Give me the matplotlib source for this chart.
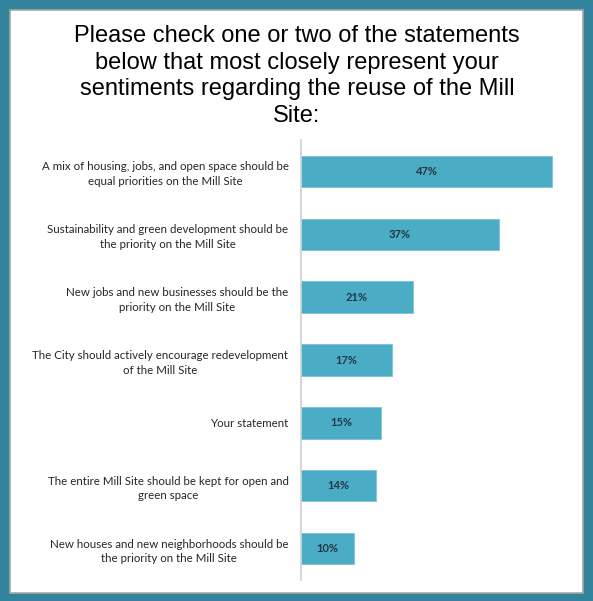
import numpy as np
import matplotlib.pyplot as plt
from matplotlib.patches import Rectangle

# Survey answers, top to bottom
categories = [
    "A mix of housing, jobs, and open space should be\nequal priorities on the Mill Site",
    "Sustainability and green development should be\nthe priority on the Mill Site",
    "New jobs and new businesses should be the\npriority on the Mill Site",
    "The City should actively encourage redevelopment\nof the Mill Site",
    "Your statement",
    "The entire Mill Site should be kept for open and\ngreen space",
    "New houses and new neighborhoods should be\nthe priority on the Mill Site",
]
values = [47, 37, 21, 17, 15, 14, 10]
value_labels = ["47%", "37%", "21%", "17%", "15%", "14%", "10%"]

title = ("Please check one or two of the statements\n"
         "below that most closely represent your\n"
         "sentiments regarding the reuse of the Mill\n"
         "Site:")

W, H = 593, 601
fig = plt.figure(figsize=(W / 100, H / 100), dpi=100)

# Teal frame with a white panel inside
fig.patches.append(Rectangle((0, 0), 1, 1, transform=fig.transFigure,
                             facecolor='#31849B', edgecolor='none', zorder=-3))
fig.patches.append(Rectangle((10 / W, 1 - 593 / H), 573 / W, 583 / H,
                             transform=fig.transFigure, facecolor='white',
                             edgecolor='#A6A6A6', linewidth=1.2, zorder=-2))

fig.text(297 / W, 1 - 25 / H, title, ha='center', va='top',
         fontsize=17, family='Liberation Sans', color='black',
         linespacing=1.27)

# Axes: left edge at the category axis line
ax = fig.add_axes([301 / W, 1 - 580 / H, 267 / W, 440 / H])
ax.set_zorder(2)
ax.patch.set_alpha(0)

y = np.arange(len(values))
ax.barh(y, values, height=0.5, color='#4BACC6', edgecolor='#7CC3D6',
        linewidth=0.6)
ax.set_xlim(0, 50)
ax.set_ylim(len(values) - 0.5, -0.5)

for yi, v, lab in zip(y, values, value_labels):
    ax.text(v / 2, yi, lab, ha='center', va='center', fontsize=8,
            fontweight='bold', family='Lato', color='#243642')

ax.set_yticks(y)
ax.set_yticklabels(categories, fontsize=8.3, family='Lato', color='#262626',
                   multialignment='center', linespacing=1.4)
ax.tick_params(axis='y', length=0, pad=9)
ax.set_xticks([])
for s in ['top', 'right', 'bottom']:
    ax.spines[s].set_visible(False)
ax.spines['left'].set_color('#D0D0D0')
ax.spines['left'].set_linewidth(1.2)

fig.savefig('out.png', dpi=100)
